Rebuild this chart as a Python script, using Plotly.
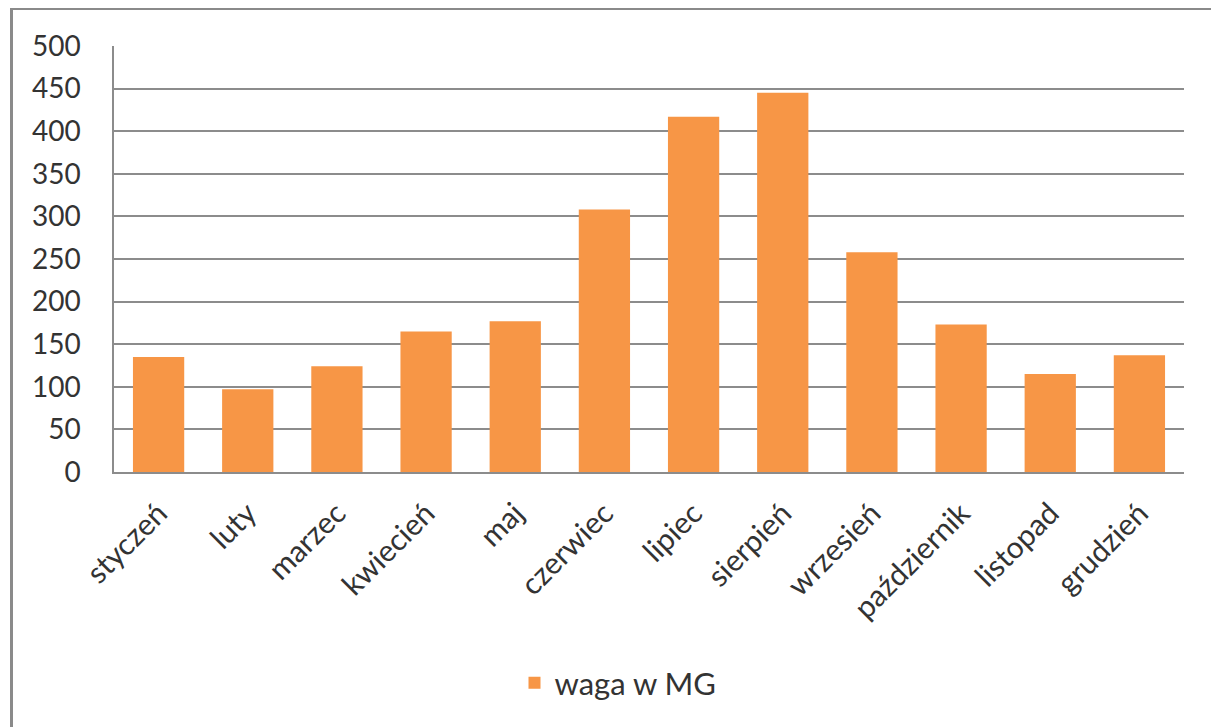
import plotly.graph_objects as go

months = ["styczeń", "luty", "marzec", "kwiecień", "maj", "czerwiec",
          "lipiec", "sierpień", "wrzesień", "październik", "listopad", "grudzień"]
waga = [135, 97, 124, 165, 177, 308, 417, 445, 258, 173, 115, 137]
series_name = "waga w MG"
y_ticks = [0, 50, 100, 150, 200, 250, 300, 350, 400, 450, 500]

OFF = 8  # default page margin of the html body
W, H = 1219 - OFF, 727 - OFF
# plot area in reference-pixel coordinates
L, R, T, B = 114, 1184, 46, 472

def px_x(x):
    return (x - L) / (R - L)

def px_y(y):
    return (B - y) / (B - T)

fig = go.Figure()
fig.add_trace(go.Bar(
    x=months, y=waga, name=series_name,
    marker=dict(color="#F79646", line=dict(width=0)),
    showlegend=True,
))

txt = "#333333"
fig.update_layout(
    width=W, height=H,
    margin=dict(l=L - OFF, r=W - (R - OFF), t=T - OFF, b=H - (B - OFF), pad=0),
    paper_bgcolor="white", plot_bgcolor="white",
    bargap=0.425,
    font=dict(family="Lato, 'Open Sans', sans-serif", color=txt),
    showlegend=True,
    legend=dict(orientation="h", x=px_x(618), xanchor="center",
                y=px_y(683), yanchor="middle",
                font=dict(size=31, color=txt),
                itemwidth=30, bgcolor="rgba(0,0,0,0)"),
    xaxis=dict(
        tickangle=-45, tickfont=dict(size=30, color=txt),
        showline=True, linecolor="#8c8c8c", linewidth=1.5,
        showgrid=False, ticks="", ticklabelstandoff=10,
    ),
    yaxis=dict(
        range=[0, 500], tickvals=y_ticks, ticktext=[str(v) for v in y_ticks],
        tickfont=dict(size=28, color=txt),
        showgrid=True, gridcolor="#8c8c8c", gridwidth=1.5,
        showline=True, linecolor="#8c8c8c", linewidth=1.5,
        zeroline=False, ticks="", ticklabelstandoff=26,
    ),
    shapes=[dict(
        type="rect", xref="paper", yref="paper",
        x0=px_x(11.5), x1=px_x(1216), y0=px_y(740), y1=px_y(8.5),
        line=dict(color="#8a8a8a", width=3), fillcolor="rgba(0,0,0,0)",
        layer="below",
    )],
)

fig.write_html("out.html")
